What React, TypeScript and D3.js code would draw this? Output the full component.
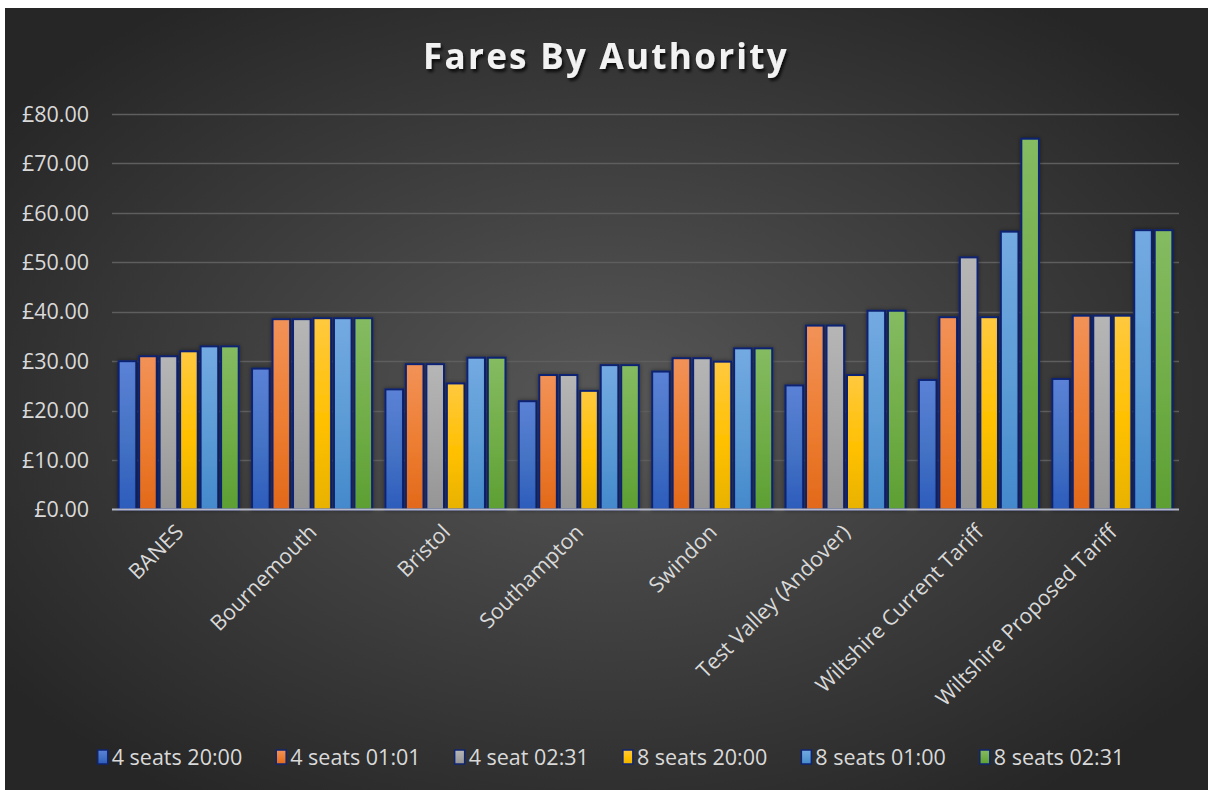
import React, { useEffect, useRef } from "react";
import * as d3 from "d3";

const categories = [
  "BANES",
  "Bournemouth",
  "Bristol",
  "Southampton",
  "Swindon",
  "Test Valley (Andover)",
  "Wiltshire Current Tariff",
  "Wiltshire Proposed Tariff",
];

const seriesNames = [
  "4 seats 20:00",
  "4 seats 01:01",
  "4 seat 02:31",
  "8 seats 20:00",
  "8 seats 01:00",
  "8 seats 02:31",
];

const s4seats2000 = [30.0, 28.5, 24.3, 21.9, 27.9, 25.1, 26.2, 26.4];
const s4seats0101 = [31.0, 38.5, 29.4, 27.2, 30.6, 37.2, 38.9, 39.2];
const s4seat0231 = [31.0, 38.5, 29.4, 27.2, 30.6, 37.2, 51.0, 39.2];
const s8seats2000 = [32.0, 38.7, 25.5, 24.0, 29.9, 27.2, 38.9, 39.2];
const s8seats0100 = [33.0, 38.7, 30.7, 29.2, 32.6, 40.2, 56.2, 56.5];
const s8seats0231 = [33.0, 38.7, 30.7, 29.2, 32.6, 40.2, 75.0, 56.5];

const seriesValues = [s4seats2000, s4seats0101, s4seat0231, s8seats2000, s8seats0100, s8seats0231];

const yTicks = [0, 10, 20, 30, 40, 50, 60, 70, 80];

const colorsTop = ["#5b82d6", "#f29258", "#b6b6b6", "#ffc93f", "#74aae2", "#85bb62"];
const colorsBottom = ["#2c5cbc", "#e2691a", "#959595", "#e8b200", "#4489cc", "#5d9f33"];
const colorsMain = ["#4472c4", "#ed7d31", "#a5a5a5", "#ffc000", "#5b9bd5", "#70ad47"];

const FONT = "'Open Sans', sans-serif";

export default function App() {
  const ref = useRef<SVGSVGElement | null>(null);

  useEffect(() => {
    const svg = d3.select(ref.current);
    svg.selectAll("*").remove();

    const W = 1208;
    const H = 790;
    const bgX = 5, bgY = 8;
    const plot = { left: 112, right: 1179, top: 114, bottom: 509.5 };

    const defs = svg.append("defs");
    const bg = defs.append("radialGradient").attr("id", "bg").attr("cx", "50%").attr("cy", "50%").attr("r", "62%");
    bg.append("stop").attr("offset", "0%").attr("stop-color", "#575757");
    bg.append("stop").attr("offset", "100%").attr("stop-color", "#262626");

    seriesNames.forEach((_, i) => {
      const g = defs.append("linearGradient").attr("id", `g${i}`).attr("x1", 0).attr("y1", 0).attr("x2", 0).attr("y2", 1);
      g.append("stop").attr("offset", "0%").attr("stop-color", colorsTop[i]);
      g.append("stop").attr("offset", "55%").attr("stop-color", colorsMain[i]);
      g.append("stop").attr("offset", "100%").attr("stop-color", colorsBottom[i]);
    });

    const sh = defs.append("filter").attr("id", "tshadow").attr("x", "-10%").attr("y", "-30%").attr("width", "120%").attr("height", "160%");
    sh.append("feDropShadow").attr("dx", 2).attr("dy", 3).attr("stdDeviation", 1.6).attr("flood-color", "#000").attr("flood-opacity", 0.75);

    const bs = defs.append("filter").attr("id", "bshadow").attr("x", "-30%").attr("y", "-10%").attr("width", "160%").attr("height", "120%");
    bs.append("feDropShadow").attr("dx", 0).attr("dy", 0).attr("stdDeviation", 2).attr("flood-color", "#000").attr("flood-opacity", 0.45);

    svg.append("rect").attr("x", bgX).attr("y", bgY).attr("width", W - bgX).attr("height", H - bgY).attr("fill", "url(#bg)");

    // Title
    svg.append("text")
      .attr("x", 606)
      .attr("y", 69)
      .attr("text-anchor", "middle")
      .attr("font-family", FONT)
      .attr("font-weight", "bold")
      .attr("font-size", 35)
      .attr("letter-spacing", 2.3)
      .attr("fill", "#f2f2f2")
      .attr("filter", "url(#tshadow)")
      .text("Fares By Authority");

    const y = d3.scaleLinear().domain([0, 80]).range([plot.bottom, plot.top]);
    const x0 = d3.scaleBand<string>().domain(categories).range([plot.left, plot.right]).paddingInner(0.1).paddingOuter(0.05);
    const x1 = d3.scaleBand<string>().domain(seriesNames).range([0, x0.bandwidth()]).paddingInner(0.14);

    // Gridlines
    svg.append("g").selectAll("line").data(yTicks.filter((t) => t > 0)).join("line")
      .attr("x1", plot.left).attr("x2", plot.right)
      .attr("y1", (d) => Math.round(y(d)) + 0.5).attr("y2", (d) => Math.round(y(d)) + 0.5)
      .attr("stroke", "#5e5e5e").attr("stroke-width", 1.3);

    // Y labels
    svg.append("g").selectAll("text").data(yTicks).join("text")
      .attr("x", 89).attr("y", (d) => y(d))
      .attr("dy", "0.36em")
      .attr("text-anchor", "end")
      .attr("font-family", FONT)
      .attr("font-size", 21.5)
      .attr("fill", "#d9d9d9")
      .text((d) => "£" + d3.format(".2f")(d));

    // Bars
    const groups = svg.append("g").selectAll("g").data(categories).join("g")
      .attr("transform", (d) => `translate(${x0(d)},0)`);
    groups.selectAll("rect")
      .data((c, ci) => seriesNames.map((s, si) => ({ s, si, v: seriesValues[si][ci] })))
      .join("rect")
      .attr("x", (d) => x1(d.s)!)
      .attr("y", (d) => y(d.v))
      .attr("width", x1.bandwidth())
      .attr("height", (d) => plot.bottom - y(d.v))
      .attr("fill", (d) => `url(#g${d.si})`)
      .attr("stroke", "#0f2473")
      .attr("stroke-width", 2)
      .attr("filter", "url(#bshadow)");

    // Baseline
    svg.append("line")
      .attr("x1", plot.left).attr("x2", plot.right)
      .attr("y1", plot.bottom).attr("y2", plot.bottom)
      .attr("stroke", "#b4b8c8").attr("stroke-width", 2);

    // X labels
    svg.append("g").selectAll("text").data(categories).join("text")
      .attr("transform", (d) => `translate(${x0(d)! + x0.bandwidth() / 2 + 6},${plot.bottom + 24}) rotate(-45)`)
      .attr("text-anchor", "end")
      .attr("font-family", FONT)
      .attr("font-size", 21.3)
      .attr("fill", "#d9d9d9")
      .text((d) => d);

    // Legend
    const leg = svg.append("g");
    const items = leg.selectAll("g").data(seriesNames).join("g");
    items.append("rect")
      .attr("x", 0).attr("y", -7).attr("width", 10).attr("height", 14)
      .attr("fill", (d, i) => `url(#g${i})`)
      .attr("stroke", "#0f2473").attr("stroke-width", 1.5);
    items.append("text")
      .attr("x", 14).attr("y", 0).attr("dy", "0.36em")
      .attr("font-family", FONT)
      .attr("font-size", 21.5)
      .attr("fill", "#d9d9d9")
      .text((d) => d);
    const widths: number[] = [];
    items.each(function () {
      const t = d3.select(this).select("text").node() as SVGTextElement;
      widths.push(14 + t.getComputedTextLength());
    });
    const gap = 34;
    const total = d3.sum(widths) + gap * (widths.length - 1);
    let cx = 611 - total / 2;
    items.attr("transform", (d, i) => {
      const tx = cx;
      cx += widths[i] + gap;
      return `translate(${tx},757)`;
    });
  }, []);

  return (
    <svg
      ref={ref}
      width={1208}
      height={790}
      style={{ position: "absolute", left: 0, top: 0, display: "block" }}
    />
  );
}
